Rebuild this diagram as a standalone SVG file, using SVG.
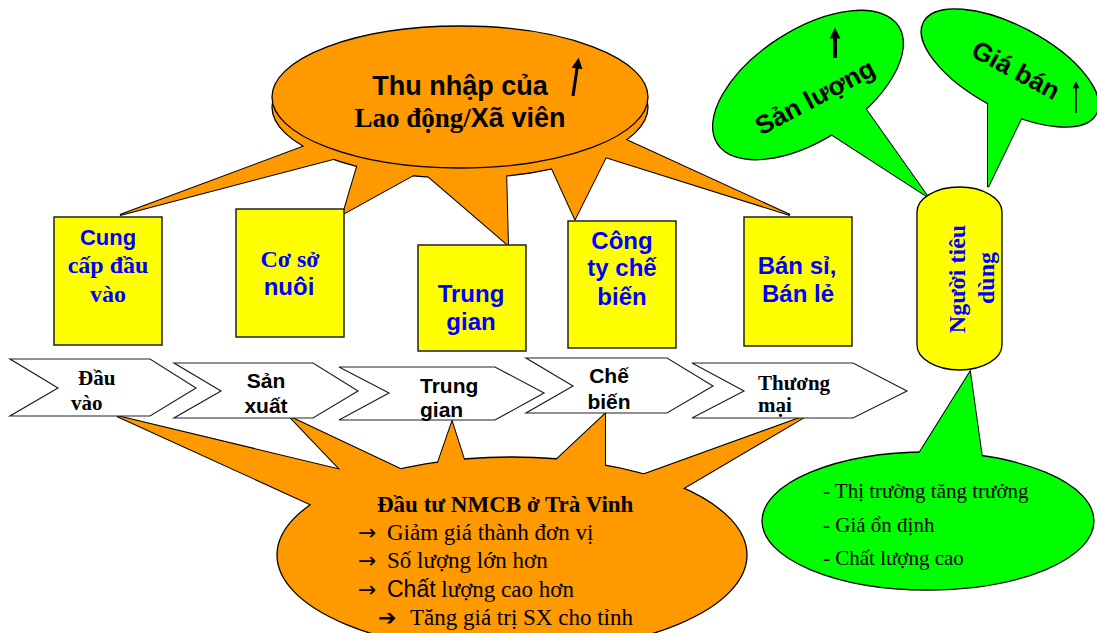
<svg xmlns="http://www.w3.org/2000/svg" xmlns:xlink="http://www.w3.org/1999/xlink" width="1097" height="633" viewBox="0 0 1097 633">
<style>
.sans{font-family:"Liberation Sans",Arial,sans-serif}
.serif{font-family:"Liberation Serif","Times New Roman",serif}
.sym{font-family:"DejaVu Sans",sans-serif}
.b{font-weight:bold}
.blue{fill:#0000FF}
.blk{fill:#000}
.box{fill:#FFFF00;stroke:#222;stroke-width:1.5}
.chev{fill:#FFF;stroke:#222;stroke-width:1.2}
.tail-o{fill:#FF9900;stroke:#000;stroke-width:2}
.tail-g{fill:#00FF00;stroke:#000;stroke-width:2}
.fill-o{fill:#FF9900;stroke:none}
.fill-g{fill:#00FF00;stroke:none}
.ell-o{fill:#FF9900;stroke:#000;stroke-width:1.3}
.ell-g{fill:#00FF00;stroke:#000;stroke-width:1.3}
.arr{stroke:#000;fill:none}
</style>
<defs>
<marker id="ahb" viewBox="0 0 10 10" refX="6" refY="5" markerWidth="12" markerHeight="11" orient="auto" markerUnits="userSpaceOnUse">
<path d="M0,0 L10,5 L0,10 Z" fill="#000"/>
</marker>
<marker id="ahs" viewBox="0 0 10 10" refX="6" refY="5" markerWidth="9" markerHeight="7" orient="auto" markerUnits="userSpaceOnUse">
<path d="M0,0 L10,5 L0,10 Z" fill="#000"/>
</marker>
<polygon id="tt1" points="120,215 340,133 360,152"/>
<polygon id="tt2" points="343,214 362,150 430,166"/>
<polygon id="tt3" points="508,245 415,165 506,168"/>
<polygon id="tt4" points="575,219 548,160 612,145"/>
<polygon id="tt5" points="790,215 600,128 570,146"/>
<polygon id="bt1" points="117,416 400,484 360,527"/>
<polygon id="bt2" points="290,417 352,482 430,483"/>
<polygon id="bt3" points="452,422 432,480 470,478"/>
<polygon id="bt4" points="605,414 540,475 605,480"/>
<polygon id="bt5" points="808,415 620,483 660,502"/>
<polygon id="gt1" points="928,197 820,127 860,101"/>
<polygon id="gt2" points="988,187 988,78 1032,96"/>
<polygon id="gt3" points="970,372 908,471 984,472"/>
</defs>
<rect width="1097" height="633" fill="#FFF"/>

<g id="connectors">
<g class="tail-o">
<use xlink:href="#tt1"/><use xlink:href="#tt2"/><use xlink:href="#tt3"/><use xlink:href="#tt4"/><use xlink:href="#tt5"/>
<use xlink:href="#bt1"/><use xlink:href="#bt2"/><use xlink:href="#bt3"/><use xlink:href="#bt4"/><use xlink:href="#bt5"/>
</g>
<g class="tail-g">
<use xlink:href="#gt1"/><use xlink:href="#gt2"/><use xlink:href="#gt3"/>
</g>
</g>

<g id="income-callout">
<ellipse class="ell-o" cx="460" cy="107" rx="188" ry="71" stroke-width="2"/>
<g class="fill-o"><use xlink:href="#tt1"/><use xlink:href="#tt2"/><use xlink:href="#tt3"/><use xlink:href="#tt4"/><use xlink:href="#tt5"/></g>
<ellipse class="ell-o" cx="460" cy="97" rx="188" ry="71"/>
<text class="sans b blk" x="460" y="95" font-size="27" text-anchor="middle">Thu nhập của</text>
<text class="b blk" x="460" y="127" font-size="27" text-anchor="middle"><tspan class="serif">Lao động/</tspan><tspan class="sans">Xã viên</tspan></text>
<line class="arr" x1="573" y1="96" x2="578" y2="62" stroke-width="3" marker-end="url(#ahb)"/>
</g>

<g id="investment-callout">
<ellipse class="ell-o" cx="512" cy="555" rx="235" ry="98" stroke-width="1.5"/>
<g class="fill-o"><use xlink:href="#bt1"/><use xlink:href="#bt2"/><use xlink:href="#bt3"/><use xlink:href="#bt4"/><use xlink:href="#bt5"/></g>
<text class="serif b blk" x="377" y="512" font-size="23">Đầu tư NMCB ở Trà Vinh</text>
<text class="sym blk" x="358" y="540" font-size="22">→</text>
<text class="serif blk" x="387" y="540" font-size="23">Giảm giá thành đơn vị</text>
<text class="sym blk" x="358" y="568" font-size="22">→</text>
<text class="serif blk" x="387" y="568" font-size="23">Số lượng lớn hơn</text>
<text class="sym blk" x="358" y="597" font-size="22">→</text>
<text class="blk" x="387" y="597" font-size="23"><tspan class="sans">Chất</tspan><tspan class="serif"> lượng cao hơn</tspan></text>
<text class="sym b blk" x="378" y="625" font-size="22">➔</text>
<text class="serif blk" x="410" y="625" font-size="23">Tăng giá trị SX cho tỉnh</text>
</g>

<g id="output-callout">
<ellipse class="ell-g" cx="808" cy="85" rx="108" ry="55" transform="rotate(-33 808 85)"/>
<g class="fill-g"><use xlink:href="#gt1"/></g>
<text class="sans b blk" font-size="26" text-anchor="middle" transform="translate(815,97) rotate(-28)" x="0" y="9">Sản lượng</text>
<line class="arr" x1="835" y1="58" x2="835" y2="32" stroke-width="4" marker-end="url(#ahb)"/>
</g>

<g id="price-callout">
<ellipse class="ell-g" cx="1010" cy="68" rx="98" ry="42" transform="rotate(28 1010 68)"/>
<g class="fill-g"><use xlink:href="#gt2"/></g>
<text class="sans b blk" font-size="26" text-anchor="middle" transform="translate(1016,70) rotate(28)" x="0" y="9">Giá bán</text>
<line class="arr" x1="1076" y1="113" x2="1076" y2="84" stroke-width="1.6" marker-end="url(#ahs)"/>
</g>

<g id="market-callout">
<ellipse class="ell-g" cx="928" cy="521" rx="166" ry="69"/>
<g class="fill-g"><use xlink:href="#gt3"/></g>
<text class="serif blk" x="823" y="498" font-size="21">- Thị trường tăng trưởng</text>
<text class="serif blk" x="823" y="532" font-size="21">- Giá ổn định</text>
<text class="serif blk" x="823" y="565" font-size="21">- Chất lượng cao</text>
</g>

<g id="consumer">
<path d="M917,212 A42.5,25 0 0 1 1002,212 V345 A42.5,25 0 0 1 917,345 Z" fill="#FFFF00" stroke="#000" stroke-width="1.3"/>
<text class="serif b blue" font-size="24" text-anchor="middle" transform="translate(965,279) rotate(-90)">Người tiêu</text>
<text class="serif b blue" font-size="24" text-anchor="middle" transform="translate(994,278) rotate(-90)">dùng</text>
</g>

<g id="box-input">
<rect class="box" x="54" y="217" width="108" height="128"/>
<text class="sans b blue" x="108" y="245" font-size="22" text-anchor="middle">Cung</text>
<text class="serif b blue" x="108" y="273" font-size="24" text-anchor="middle">cấp đầu</text>
<text class="serif b blue" x="108" y="302" font-size="24" text-anchor="middle">vào</text>
</g>
<g id="box-farm">
<rect class="box" x="236" y="209" width="108" height="128"/>
<text class="serif b blue" x="290" y="267" font-size="24" text-anchor="middle">Cơ sở</text>
<text class="sans b blue" x="289" y="295" font-size="24" text-anchor="middle">nuôi</text>
</g>
<g id="box-middle">
<rect class="box" x="418" y="245" width="108" height="106"/>
<text class="sans b blue" x="471" y="302" font-size="24" text-anchor="middle">Trung</text>
<text class="sans b blue" x="471" y="330" font-size="24" text-anchor="middle">gian</text>
</g>
<g id="box-processor">
<rect class="box" x="568" y="221" width="108" height="127"/>
<text class="sans b blue" x="622" y="249" font-size="24" text-anchor="middle">Công</text>
<text class="sans b blue" x="622" y="276" font-size="24" text-anchor="middle">ty chế</text>
<text class="sans b blue" x="622" y="305" font-size="24" text-anchor="middle">biến</text>
</g>
<g id="box-retail">
<rect class="box" x="744" y="217" width="108" height="129"/>
<text class="sans b blue" x="797" y="274" font-size="24" text-anchor="middle">Bán sỉ,</text>
<text class="sans b blue" x="798" y="302" font-size="24" text-anchor="middle">Bán lẻ</text>
</g>

<g id="stage-input">
<polygon class="chev" points="10,359 150,359 196,388 150,416 10,416 58,388"/>
<text class="serif b blk" x="78" y="385" font-size="21">Đầu</text>
<text class="serif b blk" x="71" y="410" font-size="21">vào</text>
</g>
<g id="stage-production">
<polygon class="chev" points="174,363 313,363 358,391 313,418 174,418 221,391"/>
<text class="sans b blk" x="266" y="388" font-size="21" text-anchor="middle">Sản</text>
<text class="sans b blk" x="266" y="413" font-size="21" text-anchor="middle">xuất</text>
</g>
<g id="stage-middle">
<polygon class="chev" points="339,367 495,367 544,393 495,420 339,420 389,393"/>
<text class="sans b blk" x="420" y="393" font-size="21">Trung</text>
<text class="sans b blk" x="420" y="417" font-size="21">gian</text>
</g>
<g id="stage-processing">
<polygon class="chev" points="526,358 667,358 713,386 667,413 526,413 573,386"/>
<text class="sans b blk" x="609" y="383" font-size="21" text-anchor="middle">Chế</text>
<text class="sans b blk" x="609" y="409" font-size="21" text-anchor="middle">biến</text>
</g>
<g id="stage-trade">
<polygon class="chev" points="692,363 853,363 907,391 853,418 692,418 744,391"/>
<text class="serif b blk" x="758" y="390" font-size="21">Thương</text>
<text class="serif b blk" x="758" y="412" font-size="21">mại</text>
</g>
</svg>
